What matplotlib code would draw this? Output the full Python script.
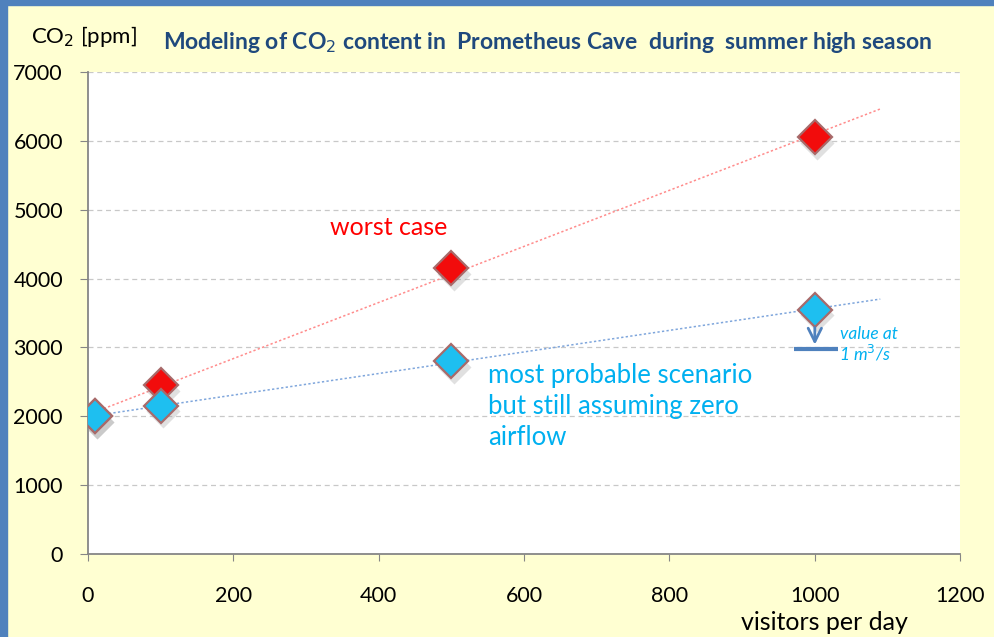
import numpy as np
import matplotlib.pyplot as plt
from matplotlib.patches import Rectangle

# data
visitors = [10, 100, 500, 1000]
co2_worst = [2000, 2450, 4150, 6050]
co2_probable = [2000, 2150, 2800, 3550]
x_ticks = [0, 200, 400, 600, 800, 1000, 1200]
y_ticks = [0, 1000, 2000, 3000, 4000, 5000, 6000, 7000]
trend_end = 1090
airflow_value = 2980

plt.rcParams['font.family'] = ['Lato', 'DejaVu Sans']

fig = plt.figure(figsize=(9.94, 6.37), dpi=100)
fig.patch.set_facecolor('#FFFFD2')
# blue frame on the top and left edges
fig.patches.append(Rectangle((0, 0), 0.007, 1, transform=fig.transFigure,
                             color='#4F81BD', zorder=0))
fig.patches.append(Rectangle((0, 0.992), 1, 0.008, transform=fig.transFigure,
                             color='#4F81BD', zorder=0))

ax = fig.add_axes([0.0885, 0.1303, 0.8775, 0.7567])
ax.set_facecolor('white')
ax.set_xlim(0, 1200)
ax.set_ylim(0, 7000)

# linear trendlines like the Excel original
xs = np.array([visitors[0], trend_end])
for vals, col in [(co2_worst, '#FF8C8C'), (co2_probable, '#7FA6DC')]:
    k, b = np.polyfit(visitors, vals, 1)
    ax.plot(xs, k * xs + b, color=col, lw=1.1, ls=(0, (1.5, 1.5)), zorder=2)

# markers with a soft shadow
for vals, fc in [(co2_worst, '#F20C0C'), (co2_probable, '#1EBFF0')]:
    ax.plot(np.array(visitors) + 3, np.array(vals) - 80, 'D', ms=17.5,
            color='#999999', alpha=0.3, mec='none', zorder=3)
    ax.plot(visitors, vals, 'D', ms=17.5, mfc=fc, mec='#A86A6A', mew=1.6, zorder=4)

# arrow down to the value at 1 m3/s airflow
ax.annotate('', xy=(1000, airflow_value + 20), xytext=(1000, 3330),
            arrowprops=dict(arrowstyle='->', color='#4F81BD', lw=2,
                            mutation_scale=24), zorder=5)
ax.plot([972, 1032], [airflow_value, airflow_value], color='#4F81BD', lw=3,
        solid_capstyle='butt', zorder=5)
ax.text(1035, 3200, 'value at', color='#00B0F0', fontsize=12.5,
        style='italic', va='center')
ax.text(1033, 2910, '1 m$^3$/s', color='#00B0F0', fontsize=12.5,
        style='italic', va='center')

ax.text(333, 4740, 'worst case', color='#FF0000', fontsize=18, va='center')
ax.text(550, 2135, 'most probable scenario\nbut still assuming zero\nairflow',
        color='#00B0F0', fontsize=18.5, va='center', linespacing=1.3)

ax.set_xticks(x_ticks)
ax.set_yticks(y_ticks)
ax.tick_params(axis='x', length=5, pad=18, labelsize=15.5, color='#868686')
ax.tick_params(axis='y', length=6, pad=12, labelsize=15.5, color='#868686')
ax.grid(axis='y', color='#C8C8C8', ls=(0, (4, 3)), lw=0.9)
ax.set_axisbelow(True)
for side in ['top', 'right']:
    ax.spines[side].set_visible(False)
for side in ['left', 'bottom']:
    ax.spines[side].set_color('#868686')
    ax.spines[side].set_linewidth(1.3)

fig.text(0.829, 0.023, 'visitors per day', fontsize=18, ha='center', va='center')
fig.text(0.031, 0.942, 'CO$_2$ [ppm]', fontsize=16, va='center')
fig.text(0.164, 0.934, 'Modeling of CO$_2$ content in  Prometheus Cave  during  summer high season',
         fontsize=16.5, fontweight='bold', color='#1F497D', va='center')

fig.savefig('out.png', dpi=100, facecolor=fig.get_facecolor())
